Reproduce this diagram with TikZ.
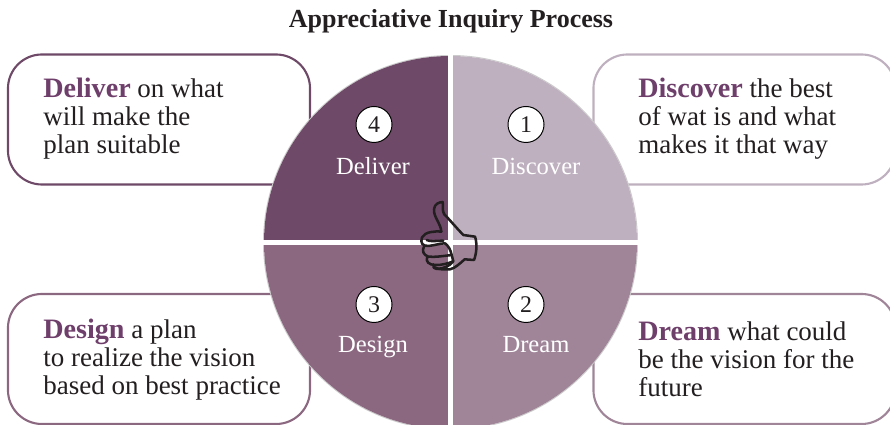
\documentclass[tikz,border=0pt]{standalone}
\usepackage{fontspec}
\setmainfont{Liberation Serif}
\definecolor{deliverc}{HTML}{6F4A68}
\definecolor{discoverc}{HTML}{BFB0BF}
\definecolor{dreamc}{HTML}{A08599}
\definecolor{designc}{HTML}{8B6880}
\definecolor{headc}{HTML}{6F3F6B}
\definecolor{inkc}{HTML}{231F20}
\tikzset{
	infobox/.style={draw=#1,line width=1.5pt,rounded corners=0.85cm,fill=white,minimum width=7.55cm,minimum height=3.25cm,inner sep=0pt},
	infotext/.style={anchor=west,align=left,inner sep=0pt,text=inkc,font=\fontsize{19.2}{20}\selectfont},
	numcirc/.style={circle,draw=black,fill=white,line width=0.7pt,minimum size=0.9cm,inner sep=0pt,text=inkc,font=\fontsize{17}{18}\selectfont},
	seclabel/.style={anchor=base,text=white,inner sep=0pt,font=\fontsize{17.5}{20}\selectfont}
}
\newcommand{\hd}[1]{\textcolor{headc}{\textbf{\fontsize{20}{20}\selectfont #1}}}
\begin{document}
\begin{tikzpicture}[x=0.025cm,y=0.025cm]
	\clip (0,0) rectangle (890,425);
	\node[text=inkc,font=\bfseries\fontsize{18.5}{20}\selectfont] (title) at (451,404) {Appreciative Inquiry Process};
	\node[infobox=deliverc] (boxa) at (159,305.5) {};
	\node[infobox=discoverc] (boxb) at (744.5,305.5) {};
	\node[infobox=designc] (boxc) at (159,66) {};
	\node[infobox=dreamc] (boxd) at (744.5,66) {};
	\node[infotext] (texta) at (43,306) {\hd{Deliver} on what\\will make the\\plan suitable};
	\node[infotext] (textb) at (638,306) {\hd{Discover} the best\\of wat is and what\\makes it that way};
	\node[infotext] (textc) at (43,65.5) {\hd{Design} a plan\\to realize the vision\\based on best practice};
	\node[infotext] (textd) at (638,65.5) {\hd{Dream} what could\\be the vision for the\\future};
	\coordinate (c) at (450.5,182.5);
	\draw[gray!40,line width=0.7pt] (c) circle[radius=187];
	\foreach \a/\col in {0/discoverc,90/deliverc,180/designc,270/dreamc}{
		\fill[\col] (c) -- ++(\a:186.5) arc[start angle=\a,delta angle=90,radius=186.5] -- cycle;
	}
	\draw[white,line width=3.6pt] (450.5,0) -- (450.5,380) (255,182.5) -- (645,182.5);
	\foreach \x/\y/\n/\lab/\ly in {526/300.5/1/Discover/250,526/120.5/2/Dream/72,374/120.5/3/Design/72,374/300.5/4/Deliver/250}{
		\node[numcirc] (num\n) at (\x,\y) {\n};
		\node[seclabel] (sec\n) at (\ifnum\n<3 536\else 373\fi,\ly) {\lab};
	}
	\begin{scope}[shift={(380,245)},x=0.00833cm,y=-0.00833cm,line width=1.8pt,inkc,line join=round,line cap=round]
		\draw (184,155) .. controls (182,130) and (160,110) .. (162,88) .. controls (163,72) and (178,66) .. (188,66) .. controls (190,80) and (186,90) .. (192,102) .. controls (205,115) and (235,150) .. (250,165) -- (285,170) .. controls (292,190) and (290,220) .. (282,240) -- (254,238) .. controls (240,250) and (225,265) .. (210,268) .. controls (195,268) and (175,270) .. (165,262);
		\draw (184,155) .. controls (165,153) and (135,155) .. (126,172) .. controls (120,190) and (128,198) .. (145,198) .. controls (165,196) and (180,190) .. (195,190);
		\draw (195,190) .. controls (205,197) and (212,210) .. (215,225);
		\draw (140,180) .. controls (150,186) and (170,182) .. (190,182);
		\draw (132,200) .. controls (125,212) and (130,225) .. (145,230) .. controls (165,232) and (190,228) .. (215,225);
		\draw (142,230) .. controls (135,245) and (148,255) .. (165,255) .. controls (185,256) and (205,250) .. (220,244) -- (215,225);
		\draw (160,253) .. controls (158,262) and (162,266) .. (170,267) .. controls (190,266) and (210,258) .. (220,244);
	\end{scope}
\end{tikzpicture}
\end{document}
